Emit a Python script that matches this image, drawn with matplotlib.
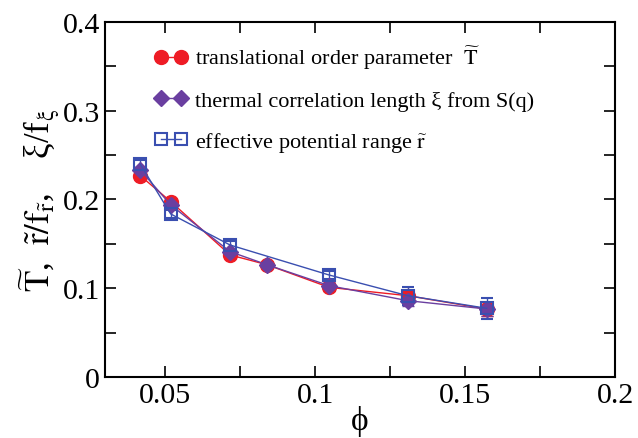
import matplotlib as mpl
mpl.use("Agg")
import matplotlib.pyplot as plt
from matplotlib.lines import Line2D
from matplotlib.ticker import MultipleLocator, FormatStrFormatter

phi = [0.0417, 0.0519, 0.0717, 0.0839, 0.1047, 0.1309, 0.1572]

t_order = [0.227, 0.1976, 0.1375, 0.1266, 0.101, 0.0916, 0.0766]
t_err = [0.003, 0.003, 0.003, 0.003, 0.004, 0.006, 0.008]

xi_corr = [0.2336, 0.1938, 0.1412, 0.1266, 0.1029, 0.086, 0.0766]
xi_err = [0.003, 0.003, 0.003, 0.003, 0.004, 0.006, 0.008]

phi_r = [0.0417, 0.0519, 0.0717, 0.1047, 0.1309, 0.1572]
r_range = [0.240, 0.1837, 0.1487, 0.1149, 0.0916, 0.0774]
r_err = [0.004, 0.004, 0.004, 0.005, 0.010, 0.012]

plt.rcParams["font.family"] = ["Liberation Serif", "DejaVu Serif"]
plt.rcParams["mathtext.fontset"] = "stix"

red = "#ee1c25"
purple = "#6a3fa0"
blue = "#3a4fb0"

fig = plt.figure(figsize=(6.38, 4.39), dpi=100)
ax = fig.add_axes([0.1646, 0.139, 0.7994, 0.8086])

ax.errorbar(phi, t_order, yerr=t_err, color=red, marker="o", ms=10, lw=1,
            elinewidth=1, capsize=4)
ax.errorbar(phi, xi_corr, yerr=xi_err, color=purple, marker="D", ms=8, lw=1,
            elinewidth=1, capsize=4)
ax.errorbar(phi_r, r_range, yerr=r_err, color=blue, marker="s", ms=9, lw=1,
            mfc="none", mew=1.5, elinewidth=1, capsize=4)

ax.set_xlim(0.03, 0.2)
ax.set_ylim(0, 0.4)
ax.xaxis.set_major_locator(MultipleLocator(0.05))
ax.xaxis.set_minor_locator(MultipleLocator(0.025))
ax.yaxis.set_major_locator(MultipleLocator(0.1))
ax.yaxis.set_minor_locator(MultipleLocator(0.05))
ax.xaxis.set_major_formatter(FormatStrFormatter("%g"))
ax.yaxis.set_major_formatter(FormatStrFormatter("%g"))
ax.tick_params(which="both", direction="in", top=True, right=True, labelsize=21.5, width=1.2)
ax.tick_params(which="both", length=8)
for s in ax.spines.values():
    s.set_linewidth(1.5)

ax.set_xlabel("ϕ", fontsize=24, labelpad=-2)
ax.set_ylabel(r"$\widetilde{\mathrm{T}}$,  $\tilde{\mathrm{r}}/\mathrm{f}_{\tilde{\mathrm{r}}}$,    ξ/f$_{\mathrm{ξ}}$",
              fontsize=25, labelpad=1)

handles = [
    Line2D([], [], color=red, marker="o", ms=10, lw=1),
    Line2D([], [], color=purple, marker="D", ms=8, lw=1),
    Line2D([], [], color=blue, marker="s", ms=9, lw=1, mfc="none", mew=1.5),
]
labels = [
    r"translational order parameter  $\widetilde{\mathrm{T}}$",
    "thermal correlation length ξ from S(q)",
    r"effective potential range $\widetilde{\mathrm{r}}$",
]
ax.legend(handles, labels, loc="upper left", bbox_to_anchor=(0.075, 0.97), frameon=False,
          numpoints=2, fontsize=16, handlelength=1.5, handletextpad=0.35,
          labelspacing=0.85, borderpad=0)

fig.savefig("out.png", dpi=100)
